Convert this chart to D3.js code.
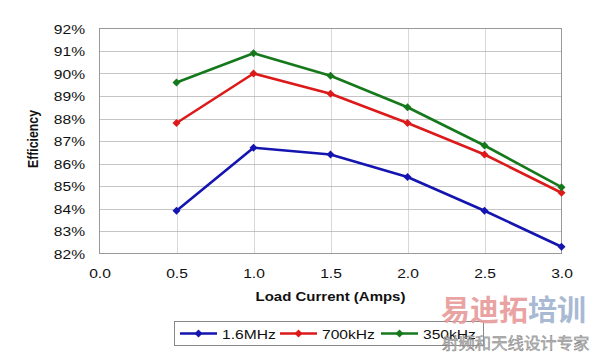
<!DOCTYPE html>
<html><head><meta charset="utf-8">
<script src="https://cdn.jsdelivr.net/npm/d3@7"></script>
<style>
body{margin:0;background:#fff;}
svg{display:block;font-family:"Liberation Sans",Arial,sans-serif;}
</style></head>
<body>
<svg id="c" width="594" height="355"></svg>
<script>
const xValues = [0.5, 1.0, 1.5, 2.0, 2.5, 3.0];
const seriesNames = ["1.6MHz", "700kHz", "350kHz"];
const seriesColors = ["#1414b0", "#dc1a1a", "#15791b"];
const s16MHz  = [83.9, 86.7, 86.4, 85.4, 83.9, 82.3];
const s700kHz = [87.8, 90.0, 89.1, 87.8, 86.4, 84.7];
const s350kHz = [89.6, 90.9, 89.9, 88.5, 86.8, 84.95];
const xTicks = [0.0, 0.5, 1.0, 1.5, 2.0, 2.5, 3.0];
const yTicks = [82, 83, 84, 85, 86, 87, 88, 89, 90, 91, 92];
const xTitle = "Load Current (Amps)";
const yTitle = "Efficiency";

const series = [s16MHz, s700kHz, s350kHz];
const SX = 1.2; // horizontal stretch of the reference text
const svg = d3.select("#c");
const L = 99.5, R = 561.5, T = 28.5, B = 253.5;
const x = d3.scaleLinear().domain([0, 3]).range([L, R]);
const y = d3.scaleLinear().domain([82, 92]).range([B, T]);

// grid
svg.append("g").selectAll("line").data(yTicks.slice(1, -1)).join("line")
  .attr("x1", L).attr("x2", R).attr("y1", d => Math.round(y(d)) + 0.5).attr("y2", d => Math.round(y(d)) + 0.5)
  .attr("stroke", "#8a8a8a").attr("stroke-width", 1).attr("stroke-dasharray", "1,1");
svg.append("g").selectAll("line").data(xTicks.slice(1, -1)).join("line")
  .attr("y1", T).attr("y2", B).attr("x1", d => Math.round(x(d)) + 0.5).attr("x2", d => Math.round(x(d)) + 0.5)
  .attr("stroke", "#b0b0b0").attr("stroke-width", 1).attr("stroke-dasharray", "1,1");
svg.append("rect").attr("x", L).attr("y", T).attr("width", R - L).attr("height", B - T)
  .attr("fill", "none").attr("stroke", "#999").attr("stroke-width", 1);

// axes (ticks via d3 axes, labels stretched horizontally)
const yAxis = d3.axisLeft(y).tickValues(yTicks).tickFormat(d => d + "%").tickSize(0);
svg.append("g").attr("transform", `translate(${L},0)`).call(yAxis)
  .call(g => g.select(".domain").remove())
  .call(g => g.selectAll(".tick text")
    .attr("x", 0).attr("y", 0).attr("dy", "0.35em")
    .attr("transform", `translate(-14.5,0) scale(${SX},1)`)
    .attr("font-size", 13).attr("fill", "#111").attr("font-family", "Liberation Sans, Arial"));
const xAxis = d3.axisBottom(x).tickValues(xTicks).tickFormat(d3.format(".1f")).tickSize(0);
svg.append("g").attr("transform", `translate(0,${B})`).call(xAxis)
  .call(g => g.select(".domain").remove())
  .call(g => g.selectAll(".tick text")
    .attr("x", 0).attr("y", 0).attr("dy", 0)
    .attr("transform", `translate(0,24) scale(${SX},1)`)
    .attr("font-size", 13).attr("fill", "#111").attr("font-family", "Liberation Sans, Arial"));

svg.append("text").attr("transform", `translate(${(L + R) / 2},301) scale(${SX},1)`).attr("text-anchor", "middle")
  .attr("font-size", 12.5).attr("font-weight", "bold").attr("fill", "#111").text(xTitle);
svg.append("text").attr("transform", `translate(38,139) scale(${SX},1) rotate(-90)`).attr("text-anchor", "middle")
  .attr("font-size", 12.3).attr("font-weight", "bold").attr("fill", "#111").text(yTitle);

// lines
const line = d3.line().x((d, i) => x(xValues[i])).y(d => y(d));
const diamond = "M0,-4L4,0L0,4L-4,0Z";
series.forEach((s, k) => {
  svg.append("path").datum(s).attr("d", line).attr("fill", "none")
    .attr("stroke", seriesColors[k]).attr("stroke-width", 2.6).attr("stroke-linejoin", "round");
  svg.append("g").selectAll("path").data(s).join("path")
    .attr("d", diamond).attr("transform", (d, i) => `translate(${x(xValues[i])},${y(d)})`)
    .attr("fill", seriesColors[k]);
});

// legend
const lg = svg.append("g");
lg.append("rect").attr("x", 174.5).attr("y", 321.5).attr("width", 309).attr("height", 24)
  .attr("fill", "#fff").attr("stroke", "#888");
const lx = [180, 280, 381];
seriesNames.forEach((n, k) => {
  lg.append("line").attr("x1", lx[k]).attr("x2", lx[k] + 37).attr("y1", 333.5).attr("y2", 333.5)
    .attr("stroke", seriesColors[k]).attr("stroke-width", 2.6);
  lg.append("path").attr("d", diamond).attr("transform", `translate(${lx[k] + 18.5},333.5)`).attr("fill", seriesColors[k]);
  lg.append("text").attr("transform", `translate(${lx[k] + 42},338.5) scale(${SX},1)`)
    .attr("font-size", 13).attr("fill", "#111").text(n);
});

// watermark
const wm = svg.append("g").attr("font-family", "Noto Sans CJK SC").attr("font-weight", "bold");
wm.append("text").attr("x", 441).attr("y", 321).attr("font-size", 29).attr("fill", "#e89a9a").attr("opacity", 0.9).text("易迪拓");
wm.append("text").attr("x", 528).attr("y", 321).attr("font-size", 29).attr("fill", "#9fb3cf").attr("opacity", 0.9).text("培训");
svg.append("text").attr("x", 442).attr("y", 349).attr("font-size", 16.4).attr("font-family", "Noto Sans CJK SC")
  .attr("fill", "#bbb").attr("stroke", "#777").attr("stroke-width", 0.4).text("射频和天线设计专家");
</script>
</body></html>
